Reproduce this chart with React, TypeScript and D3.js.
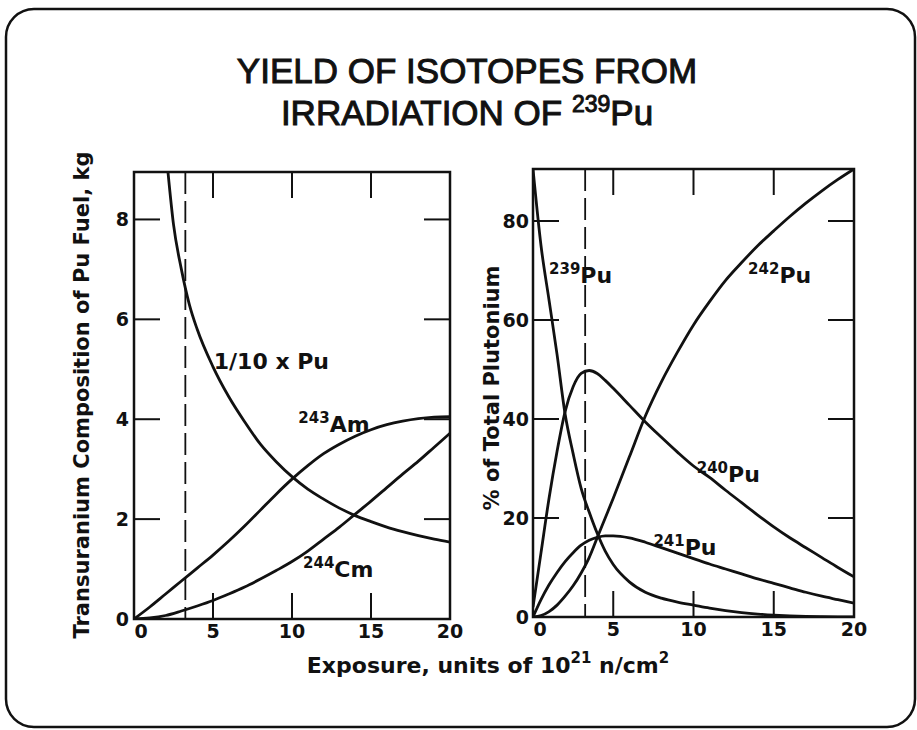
import { useEffect, useRef } from 'react';
import * as d3 from 'd3';

// exposure in units of 10^21 n/cm^2
const exposureTicks = [0, 5, 10, 15, 20];
const massTicks = [0, 2, 4, 6, 8];
const percentTicks = [0, 20, 40, 60, 80];
const referenceExposure = 3.25;

// left panel, kg
const puExposure = [2.15, 2.5, 3, 3.5, 4, 5, 6, 7, 8, 9, 10, 11, 12, 13, 14, 15, 16, 17, 18, 19, 20];
const puTenth = [8.95, 7.9, 7.0, 6.3, 5.8, 5.05, 4.45, 3.95, 3.5, 3.15, 2.85, 2.6, 2.4, 2.22, 2.07, 1.95, 1.84, 1.75, 1.67, 1.6, 1.54];

const leftExposure = [0, 1, 2, 3, 4, 5, 6, 7, 8, 9, 10, 11, 12, 13, 14, 15, 16, 17, 18, 19, 20];
const am243 = [0, 0.24, 0.5, 0.76, 1.02, 1.28, 1.56, 1.86, 2.18, 2.5, 2.8, 3.07, 3.31, 3.5, 3.66, 3.79, 3.89, 3.96, 4.01, 4.04, 4.05];
const cm244 = [0, 0.02, 0.07, 0.16, 0.26, 0.37, 0.5, 0.64, 0.8, 0.97, 1.15, 1.36, 1.6, 1.84, 2.1, 2.36, 2.63, 2.9, 3.16, 3.44, 3.72];

// right panel, % of total plutonium
const rightExposure = [0, 0.5, 1, 1.5, 2, 2.5, 3, 3.5, 4, 4.5, 5, 6, 7, 8, 9, 10, 11, 12, 13, 14, 15, 16, 17, 18, 19, 20];
const pu239 = [90.5, 75, 64, 53, 41, 33, 26, 21.2, 16.9, 13.3, 10.6, 7.1, 5.0, 3.8, 3.0, 2.4, 1.8, 1.3, 0.9, 0.6, 0.38, 0.22, 0.12, 0.06, 0.02, 0];
const pu240 = [2, 13, 24, 33.5, 41.5, 46.5, 49.2, 49.8, 49.2, 47.8, 46.2, 42.8, 39.4, 36.3, 33.3, 30.5, 28.2, 25.6, 23.1, 20.6, 18.2, 16, 14, 12, 10, 8.1];
const pu241 = [0, 3.5, 6.5, 9.0, 11.2, 13.0, 14.5, 15.5, 16.1, 16.4, 16.4, 16.0, 15.1, 14.0, 12.9, 11.8, 10.7, 9.7, 8.7, 7.7, 6.8, 5.9, 5.0, 4.2, 3.5, 2.8];
const pu242 = [0, 0.3, 1.1, 2.4, 4.2, 6.3, 8.9, 12, 16, 20, 24, 32.3, 40.6, 47.5, 53.5, 59, 63.7, 68, 71.6, 75, 78, 80.9, 83.6, 86.1, 88.4, 90.5];

const INK = '#111';
const labelFont = '"DejaVu Sans", sans-serif';

export default function App() {
  const svgRef = useRef<SVGSVGElement>(null);

  useEffect(() => {
    document.body.style.margin = '0';
    if (!svgRef.current) return;
    const svg = d3.select(svgRef.current);
    svg.selectAll('*').remove();

    // outer rounded border
    svg.append('rect')
      .attr('x', 6).attr('y', 9).attr('width', 909).attr('height', 718)
      .attr('rx', 28).attr('fill', 'none').attr('stroke', INK).attr('stroke-width', 2.5);

    // title
    const title = svg.append('text')
      .attr('text-anchor', 'middle')
      .attr('font-family', '"Liberation Sans", Arial, sans-serif')
      .attr('font-size', 35)
      .attr('fill', INK).attr('stroke', INK).attr('stroke-width', 1);
    title.append('tspan').attr('x', 467).attr('y', 83).text('YIELD OF ISOTOPES FROM');
    const t2 = title.append('tspan').attr('x', 467).attr('y', 125);
    t2.append('tspan').text('IRRADIATION OF ');
    t2.append('tspan').attr('font-size', 23).attr('dy', -13).text('239');
    t2.append('tspan').attr('dy', 13).text('Pu');

    const drawPanel = (
      left: number, right: number, top: number, bottom: number,
      yMax: number, yTicks: number[], yLabelX: number
    ) => {
      const x = d3.scaleLinear().domain([0, 20]).range([left, right]);
      const y = d3.scaleLinear().domain([0, yMax]).range([bottom, top]);
      const g = svg.append('g');
      const tick = 26;

      g.append('rect')
        .attr('x', left).attr('y', top).attr('width', right - left).attr('height', bottom - top)
        .attr('fill', 'none').attr('stroke', INK).attr('stroke-width', 2.5);

      exposureTicks.filter((t) => t > 0 && t < 20).forEach((t) => {
        g.append('line').attr('x1', x(t)).attr('x2', x(t)).attr('y1', bottom).attr('y2', bottom - tick)
          .attr('stroke', INK).attr('stroke-width', 2);
        g.append('line').attr('x1', x(t)).attr('x2', x(t)).attr('y1', top).attr('y2', top + tick)
          .attr('stroke', INK).attr('stroke-width', 2);
      });
      yTicks.filter((t) => t > 0).forEach((t) => {
        g.append('line').attr('x1', left).attr('x2', left + tick).attr('y1', y(t)).attr('y2', y(t))
          .attr('stroke', INK).attr('stroke-width', 2);
        g.append('line').attr('x1', right).attr('x2', right - tick).attr('y1', y(t)).attr('y2', y(t))
          .attr('stroke', INK).attr('stroke-width', 2);
      });

      g.selectAll('.xl').data(exposureTicks).enter().append('text')
        .attr('x', (d) => x(d) + (d === 0 ? 7 : 0)).attr('y', bottom + 19)
        .attr('text-anchor', 'middle')
        .attr('font-family', labelFont).attr('font-weight', 'bold').attr('font-size', 19)
        .attr('fill', INK).text((d) => d);
      g.selectAll('.yl').data(yTicks).enter().append('text')
        .attr('x', yLabelX).attr('y', (d) => y(d) + 7)
        .attr('text-anchor', 'end')
        .attr('font-family', labelFont).attr('font-weight', 'bold').attr('font-size', 19)
        .attr('fill', INK).text((d) => d);

      g.append('line')
        .attr('x1', x(referenceExposure)).attr('x2', x(referenceExposure))
        .attr('y1', top).attr('y2', bottom)
        .attr('stroke', INK).attr('stroke-width', 1.8).attr('stroke-dasharray', '22,7');

      const clipId = `clip-${left}`;
      svg.append('clipPath').attr('id', clipId).append('rect')
        .attr('x', left).attr('y', top).attr('width', right - left).attr('height', bottom - top);
      const curves = g.append('g').attr('clip-path', `url(#${clipId})`);

      const addCurve = (xs: number[], ys: number[]) => {
        const line = d3.line<number>()
          .x((_, i) => x(xs[i]))
          .y((d) => y(d))
          .curve(d3.curveMonotoneX);
        curves.append('path').attr('d', line(ys) || '')
          .attr('fill', 'none').attr('stroke', INK).attr('stroke-width', 2.8)
          .attr('stroke-linejoin', 'round');
      };

      const addLabel = (xv: number, yv: number, sup: string, main: string) => {
        const t = g.append('text')
          .attr('x', x(xv)).attr('y', y(yv))
          .attr('font-family', labelFont).attr('font-weight', 'bold').attr('font-size', 22)
          .attr('fill', INK);
        if (sup) {
          t.append('tspan').attr('font-size', 15).attr('dy', -9).text(sup);
          t.append('tspan').attr('dy', 9).text(main);
        } else {
          t.text(main);
        }
      };

      return { addCurve, addLabel };
    };

    const leftPanel = drawPanel(134, 450, 172, 619, 8.95, massTicks, 129);
    leftPanel.addCurve(puExposure, puTenth);
    leftPanel.addCurve(leftExposure, am243);
    leftPanel.addCurve(leftExposure, cm244);
    leftPanel.addLabel(5.05, 5.0, '', '1/10 x Pu');
    leftPanel.addLabel(10.4, 3.74, '243', 'Am');
    leftPanel.addLabel(10.7, 0.84, '244', 'Cm');

    const rightPanel = drawPanel(533, 854, 169, 617, 90.5, percentTicks, 529);
    rightPanel.addCurve(rightExposure, pu239);
    rightPanel.addCurve(rightExposure, pu240);
    rightPanel.addCurve(rightExposure, pu241);
    rightPanel.addCurve(rightExposure, pu242);
    rightPanel.addLabel(1.0, 67.5, '239', 'Pu');
    rightPanel.addLabel(13.4, 67.5, '242', 'Pu');
    rightPanel.addLabel(10.2, 27.3, '240', 'Pu');
    rightPanel.addLabel(7.5, 12.5, '241', 'Pu');

    // axis titles
    svg.append('text')
      .attr('transform', 'translate(89,395) rotate(-90)')
      .attr('text-anchor', 'middle')
      .attr('font-family', labelFont).attr('font-weight', 'bold').attr('font-size', 21)
      .attr('fill', INK).text('Transuranium Composition of Pu Fuel, kg');
    svg.append('text')
      .attr('transform', 'translate(499,388) rotate(-90)')
      .attr('text-anchor', 'middle')
      .attr('font-family', labelFont).attr('font-weight', 'bold').attr('font-size', 21)
      .attr('fill', INK).text('% of Total Plutonium');

    const xt = svg.append('text')
      .attr('x', 488).attr('y', 673)
      .attr('text-anchor', 'middle')
      .attr('font-family', labelFont).attr('font-weight', 'bold').attr('font-size', 22)
      .attr('fill', INK);
    xt.append('tspan').text('Exposure, units of 10');
    xt.append('tspan').attr('font-size', 15).attr('dy', -10).text('21');
    xt.append('tspan').attr('dy', 10).text(' n/cm');
    xt.append('tspan').attr('font-size', 15).attr('dy', -10).text('2');
  }, []);

  return <svg ref={svgRef} width={917} height={730} style={{ display: 'block', background: '#fff' }} />;
}
